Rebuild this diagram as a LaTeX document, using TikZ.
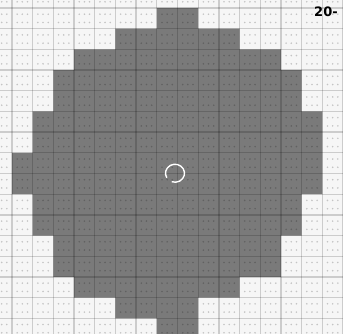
\documentclass[tikz,border=0pt]{standalone}
\usepackage{fontspec}
\setsansfont{DejaVu Sans}
\definecolor{bgc}{HTML}{F6F6F6}
\definecolor{fillc}{HTML}{7A7A7A}
\definecolor{linec}{HTML}{000000}
\begin{document}
\begin{tikzpicture}[x=1pt,y=-1pt,
  gridline/.style={draw=linec,draw opacity=0.17,line width=1.3pt},
  dotc/.style={fill=linec,fill opacity=0.2},
  blob/.style={fill=fillc,draw=none},
  ringline/.style={draw=white,line width=1.4pt},
  labeltext/.style={font=\sffamily\bfseries\fontsize{13}{13}\selectfont,inner sep=0pt,anchor=west}]
\def\S{20.6875}
\useasboundingbox (0,0) rectangle (343,334);
\fill[bgc] (0,0) rectangle (343,334);
% pixelated disc
\path[blob]
 (12+7*\S,8+0*\S) -- (12+9*\S,8+0*\S) -- (12+9*\S,8+1*\S) -- (12+11*\S,8+1*\S)
 -- (12+11*\S,8+2*\S) -- (12+13*\S,8+2*\S) -- (12+13*\S,8+3*\S) -- (12+14*\S,8+3*\S)
 -- (12+14*\S,8+5*\S) -- (12+15*\S,8+5*\S) -- (12+15*\S,8+9*\S) -- (12+14*\S,8+9*\S)
 -- (12+14*\S,8+11*\S) -- (12+13*\S,8+11*\S) -- (12+13*\S,8+13*\S) -- (12+11*\S,8+13*\S)
 -- (12+11*\S,8+14*\S) -- (12+9*\S,8+14*\S) -- (12+9*\S,340)
 -- (12+7*\S,340) -- (12+7*\S,8+15*\S) -- (12+5*\S,8+15*\S) -- (12+5*\S,8+14*\S)
 -- (12+3*\S,8+14*\S) -- (12+3*\S,8+13*\S) -- (12+2*\S,8+13*\S) -- (12+2*\S,8+11*\S)
 -- (12+1*\S,8+11*\S) -- (12+1*\S,8+9*\S) -- (12+0*\S,8+9*\S) -- (12+0*\S,8+7*\S)
 -- (12+1*\S,8+7*\S) -- (12+1*\S,8+5*\S) -- (12+2*\S,8+5*\S) -- (12+2*\S,8+3*\S)
 -- (12+3*\S,8+3*\S) -- (12+3*\S,8+2*\S) -- (12+5*\S,8+2*\S) -- (12+5*\S,8+1*\S)
 -- (12+7*\S,8+1*\S) -- cycle;
% grid dots
\foreach \i in {-1,...,15}{
  \foreach \j in {-1,...,15}{
    \foreach \a in {0.25,0.5,0.75}{
      \foreach \b in {0.3,0.7}{
        \fill[dotc] ({12+(\i+\a)*\S},{8+(\j+\b)*\S}) circle (0.9);
      }
    }
  }
}
% grid lines
\foreach \i in {-1,...,16}{
  \draw[gridline] ({12+\i*\S},0) -- ({12+\i*\S},334);
  \draw[gridline] (0,{8+\i*\S}) -- (343,{8+\i*\S});
}
% center ring
\coordinate (ringc) at (175,173);
\draw[ringline] (ringc) ++(150:9.5) arc[start angle=150,end angle=470,x radius=9.5,y radius=9];
% corner label
\node[labeltext] (lbl) at (314,12) {20-};
\end{tikzpicture}
\end{document}
